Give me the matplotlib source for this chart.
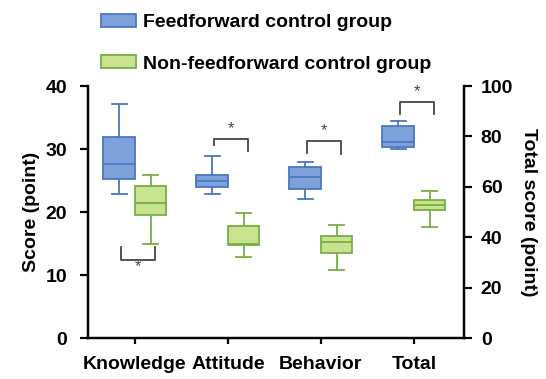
import matplotlib
matplotlib.use("Agg")
import matplotlib.pyplot as plt
from matplotlib.patches import Patch

plt.rcParams['font.family'] = ['Liberation Sans', 'DejaVu Sans']
plt.rcParams['font.weight'] = 'bold'
plt.rcParams['axes.labelweight'] = 'bold'
plt.rcParams['font.size'] = 14

categories = ['Knowledge', 'Attitude', 'Behavior', 'Total']
groups = ['Feedforward control group', 'Non-feedforward control group']

# (whislo, q1, med, q3, whishi)
ff_stats = [(22.9, 25.3, 27.6, 31.9, 37.1),
            (22.9, 23.9, 25.0, 25.9, 28.9),
            (22.1, 23.7, 25.5, 27.1, 28.0),
            (74.9, 75.9, 77.6, 84.1, 86.1)]
nff_stats = [(14.9, 19.6, 21.5, 24.2, 25.9),
             (12.9, 14.7, 14.9, 17.8, 19.9),
             (10.8, 13.5, 15.2, 16.2, 18.0),
             (44.0, 50.7, 52.7, 54.8, 58.2)]

# significance brackets: (y bar, y left leg end, y right leg end, star y)
brackets = [(12.4, 14.5, 14.5, 11.4),
            (31.6, 30.6, 29.7, 33.3),
            (31.3, 29.4, 29.2, 32.9),
            (93.8, 89.1, 89.1, 97.7)]

blue_face, blue_edge = '#7fa1d9', '#4a76c2'
green_face, green_edge = '#c9e290', '#76b043'
brk_col = '#444444'

fig = plt.figure(figsize=(5.46, 3.79), dpi=100)
ax = fig.add_axes([0.161, 0.108, 0.689, 0.665])
ax2 = ax.twinx()


def to_dict(s):
    return dict(whislo=s[0], q1=s[1], med=s[2], q3=s[3], whishi=s[4], fliers=[])


def draw(axis, stats, pos, face, edge):
    bp = axis.bxp([to_dict(s) for s in stats], positions=pos, widths=0.34,
                  capwidths=0.16, patch_artist=True, showfliers=False,
                  manage_ticks=False)
    for b in bp['boxes']:
        b.set_facecolor(face)
        b.set_edgecolor(edge)
        b.set_linewidth(1.3)
    for k in ['whiskers', 'caps', 'medians']:
        for l in bp[k]:
            l.set_color(edge)
            l.set_linewidth(1.3)


off = 0.17
draw(ax, ff_stats[:3], [i - off for i in range(3)], blue_face, blue_edge)
draw(ax, nff_stats[:3], [i + off for i in range(3)], green_face, green_edge)
draw(ax2, ff_stats[3:], [3 - off], blue_face, blue_edge)
draw(ax2, nff_stats[3:], [3 + off], green_face, green_edge)

for i, (yb, yl, yr, ys) in enumerate(brackets):
    a = ax2 if i == 3 else ax
    x0, x1 = i - 0.15, i + 0.22
    a.plot([x0, x0, x1, x1], [yl, yb, yb, yr], color=brk_col, lw=1.3,
           clip_on=False)
    a.text((x0 + x1) / 2, ys, '*', ha='center', va='center', fontsize=12,
           fontweight='normal', color=brk_col)

ax.set_xlim(-0.505, 3.54)
ax.set_ylim(0, 40)
ax2.set_ylim(0, 100)
ax.set_yticks(range(0, 41, 10))
ax2.set_yticks(range(0, 101, 20))
ax.set_xticks(range(4))
ax.set_xticklabels(categories)

for a in (ax, ax2):
    a.spines['top'].set_visible(False)
    for s in ['left', 'right', 'bottom']:
        a.spines[s].set_linewidth(1.6)
    a.tick_params(width=1.6, length=6)
ax.tick_params(axis='x', length=4, pad=9)
ax.tick_params(axis='y', pad=9)
ax2.tick_params(axis='y', pad=6)

ax.set_ylabel('Score (point)', labelpad=4)
ax2.set_ylabel('Total score (point)', rotation=270, labelpad=17)

handles = [Patch(facecolor=blue_face, edgecolor=blue_edge, lw=1.3),
           Patch(facecolor=green_face, edgecolor=green_edge, lw=1.3)]
fig.legend(handles, groups, loc='upper left', bbox_to_anchor=(0.16, 1.0),
           frameon=False, handlelength=1.8, handleheight=0.65,
           handletextpad=0.35, labelspacing=1.25, borderaxespad=0.3)

fig.savefig('out.png', dpi=100)
